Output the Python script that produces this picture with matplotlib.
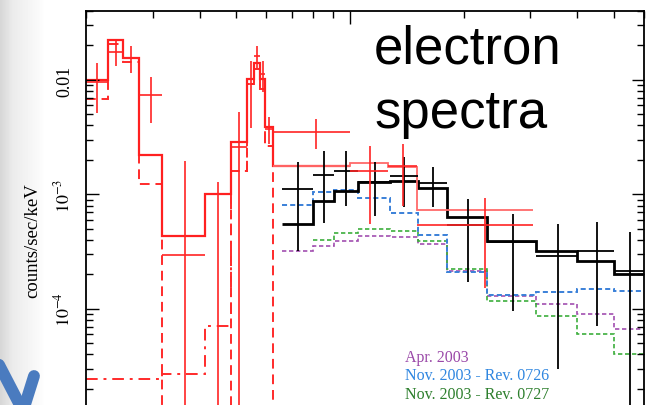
import numpy as np
import matplotlib
matplotlib.use("Agg")
import matplotlib.pyplot as plt
from matplotlib.lines import Line2D
from matplotlib.ticker import FixedLocator, FixedFormatter, LogLocator, NullFormatter

# ---------------- data (energies in keV, rates in counts/sec/keV) ----------------
red_edges = [0.200, 0.229, 0.250, 0.276, 0.318, 0.413, 0.484, 0.534, 0.557, 0.578,
             0.595, 0.625, 1.00, 1.26, 1.50, 3.05]
red_model = [1.00e-2, 2.24e-2, 1.56e-2, 2.21e-3, 4.34e-4, 1.01e-3, 2.87e-3, 1.02e-2,
             1.41e-2, 1.02e-2, 3.89e-3, 1.78e-3, 1.88e-3, 1.74e-3, 7.32e-4]
red_data = [9.60e-3, 1.76e-2, 1.56e-2, 7.39e-3, 2.96e-4, 2e-6, 2.60e-3, 9.23e-3,
            1.62e-2, 1.13e-2, 3.73e-3, 3.52e-3, 1.60e-3, 1.78e-3, 5.42e-4]
red_err = [4.5e-3, 4.3e-3, 4.2e-3, 3.2e-3, 1.67e-3, 1.28e-3, 2.65e-3, 5.4e-3,
           3.6e-3, 3.4e-3, 1.0e-3, 1.05e-3, 1.05e-3, 0.98e-3, 3.9e-4]
red_dashed = [6.82e-3, 2.06e-2, 1.44e-2, 1.24e-3, 1e-7, 1e-7, 1.60e-3, 9.23e-3,
              1.25e-2, 8.34e-3, 2.65e-3, 1e-7]
red_dashdot = [2.45e-5, 2.45e-5, 2.45e-5, 2.45e-5, 2.70e-5, 7.11e-5, 1.60e-3, 9.23e-3,
               1.25e-2, 8.34e-3, 2.65e-3]

black_edges = [0.66, 0.80, 0.905, 1.05, 1.275, 1.51, 1.805, 2.30, 3.10, 4.0, 5.0, 6.0]
black_data = [1.12e-3, 1.48e-3, 1.60e-3, 1.285e-3, 1.45e-3, 1.26e-3, 5.42e-4, 3.85e-4,
              2.90e-4, 3.21e-4, 2.15e-4]
black_err = [0.80e-3, 0.92e-3, 0.80e-3, 0.635e-3, 0.68e-3, 0.48e-3, 3.7e-4, 2.9e-4,
             2.6e-4, 2.5e-4, 2.55e-4]
black_model = [5.52e-4, 8.77e-4, 1.073e-3, 1.285e-3, 1.31e-3, 1.14e-3, 6.36e-4, 3.93e-4,
               3.21e-4, 2.62e-4, 2.02e-4]

blue_model = [8.09e-4, 1.051e-3, 1.094e-3, 9.31e-4, 6.89e-4, 4.43e-4, 2.10e-4, 1.325e-4,
              1.41e-4, 1.50e-4, 1.44e-4]
purple_model = [3.21e-4, 3.55e-4, 3.93e-4, 4.34e-4, 4.25e-4, 3.70e-4, 2.15e-4, 1.30e-4,
                1.106e-4, 9.04e-5, 6.69e-5]
green_edges = [0.80, 0.905, 1.05, 1.275, 1.51, 1.805, 2.30, 3.10, 4.0, 5.0, 6.0]
green_model = [4.01e-4, 4.61e-4, 5.00e-4, 4.80e-4, 3.93e-4, 2.24e-4, 1.175e-4, 8.69e-5,
               6.05e-5, 4.05e-5]

yticks = [1e-5, 1e-4, 1e-3, 1e-2]
ytick_labels = ["$10^{-5}$", "$10^{-4}$", "$10^{-3}$", "0.01"]
legend_labels = ["Apr. 2003", "Nov. 2003 - Rev. 0726", "Nov. 2003 - Rev. 0727"]

# ---------------- styling ----------------
plt.rcParams["font.family"] = ["Liberation Serif", "DejaVu Serif"]
plt.rcParams["mathtext.fontset"] = "stix"

W, H = 652, 406
fig = plt.figure(figsize=(W / 100, H / 100), dpi=100)
fig.patch.set_facecolor("white")

# slide background strip on the left
bgax = fig.add_axes([0, 0, 46 / W, 1], zorder=-5)
xs = np.arange(46)
shade = np.interp(xs, [0, 12, 40, 45], [0.84, 0.92, 0.985, 1.0])
bgax.imshow(np.tile(shade, (20, 1)), cmap="gray", vmin=0, vmax=1, aspect="auto",
            extent=[0, 1, 0, 1])
bgax.axis("off")

def fx(x):
    return x / W

def fy(y):
    return 1 - y / H

arrow_col = "#4a7bbf"
fig.add_artist(Line2D([fx(-4), fx(23)], [fy(360), fy(412)], lw=8.5, color=arrow_col,
                      solid_capstyle="round"))
fig.add_artist(Line2D([fx(34), fx(23)], [fy(377), fy(412)], lw=8.5, color=arrow_col,
                      solid_capstyle="round"))

ax = fig.add_axes([86 / W, (H - 424.4) / H, 558 / W, 412.4 / H])
ax.set_xscale("log")
ax.set_yscale("log")
ax.set_xlim(0.2, 6.0)
ax.set_ylim(1e-5, 0.04)

dash_short = (0, (2.6, 1.6))
ax.stairs(purple_model, black_edges, baseline=None, color="#a24fb0", lw=1.2, linestyle=dash_short)
ax.stairs(green_model, green_edges, baseline=None, color="#3cae3c", lw=1.2, linestyle=dash_short)
ax.stairs(blue_model, black_edges, baseline=None, color="#3a80d8", lw=1.4, linestyle=dash_short)

# black spectrum
ax.stairs(black_model, black_edges, baseline=None, color="black", lw=2.0)
be = np.array(black_edges)
bx = (be[:-1] + be[1:]) / 2
bxe = (be[1:] - be[:-1]) / 2
ax.errorbar(bx, black_data, xerr=bxe, yerr=black_err, fmt="none", ecolor="black",
            elinewidth=1.3, capsize=0)

# red spectrum
re = np.array(red_edges)
rx = (re[:-1] + re[1:]) / 2
rxe = (re[1:] - re[:-1]) / 2
ax.stairs(red_dashed, red_edges[:len(red_dashed) + 1], baseline=None, color="#ff2a2a",
          lw=1.4, linestyle=(0, (5, 3)))
ax.stairs(red_dashdot, red_edges[:len(red_dashdot) + 1], baseline=None, color="#ff2a2a",
          lw=1.4, linestyle=(0, (6, 3, 1.5, 3)))
ax.stairs(red_model[:12], red_edges[:13], baseline=None, color="#ff2020", lw=1.6)
ax.stairs(red_model[11:], red_edges[11:], baseline=None, color="#ff6a6a", lw=1.3)
ax.errorbar(rx, red_data, xerr=rxe, yerr=red_err, fmt="none", ecolor="#ff2424",
            elinewidth=1.2, capsize=0)

# axes / ticks
ax.yaxis.set_major_locator(FixedLocator(yticks))
ax.yaxis.set_major_formatter(FixedFormatter(ytick_labels))
ax.yaxis.set_minor_locator(LogLocator(base=10, subs=np.arange(2, 10)))
ax.yaxis.set_minor_formatter(NullFormatter())
ax.xaxis.set_major_locator(FixedLocator([1.0]))
ax.xaxis.set_minor_locator(LogLocator(base=10, subs=np.arange(2, 10)))
ax.xaxis.set_minor_formatter(NullFormatter())
ax.tick_params(which="both", direction="in", top=True, right=True, labelbottom=False,
               width=1.0, color="black")
ax.tick_params(which="major", length=9)
ax.tick_params(which="minor", length=5)
ax.tick_params(axis="y", which="major", labelsize=13, labelrotation=90, pad=9)
for lbl in ax.get_yticklabels():
    lbl.set_verticalalignment("center")
for sp in ax.spines.values():
    sp.set_linewidth(1.3)
    sp.set_color("black")

fig.text(33 / W, fy(241), "counts/sec/keV", rotation=90, ha="center", va="center",
         fontsize=13.5)

fig.text(374 / W, fy(63), "electron", family="Liberation Sans", fontsize=38,
         va="baseline", ha="left", color="black")
fig.text(374 / W, fy(128), "spectra", family="Liberation Sans", fontsize=38,
         va="baseline", ha="left", color="black")

legend_colors = ["#9a48a8", "#2f86e0", "#2d7f2d"]
for i, (lab, col) in enumerate(zip(legend_labels, legend_colors)):
    fig.text(405 / W, fy(362 + 18.5 * i), lab, color=col, fontsize=11.5, va="baseline",
             ha="left")

fig.savefig("out.png", dpi=100)
